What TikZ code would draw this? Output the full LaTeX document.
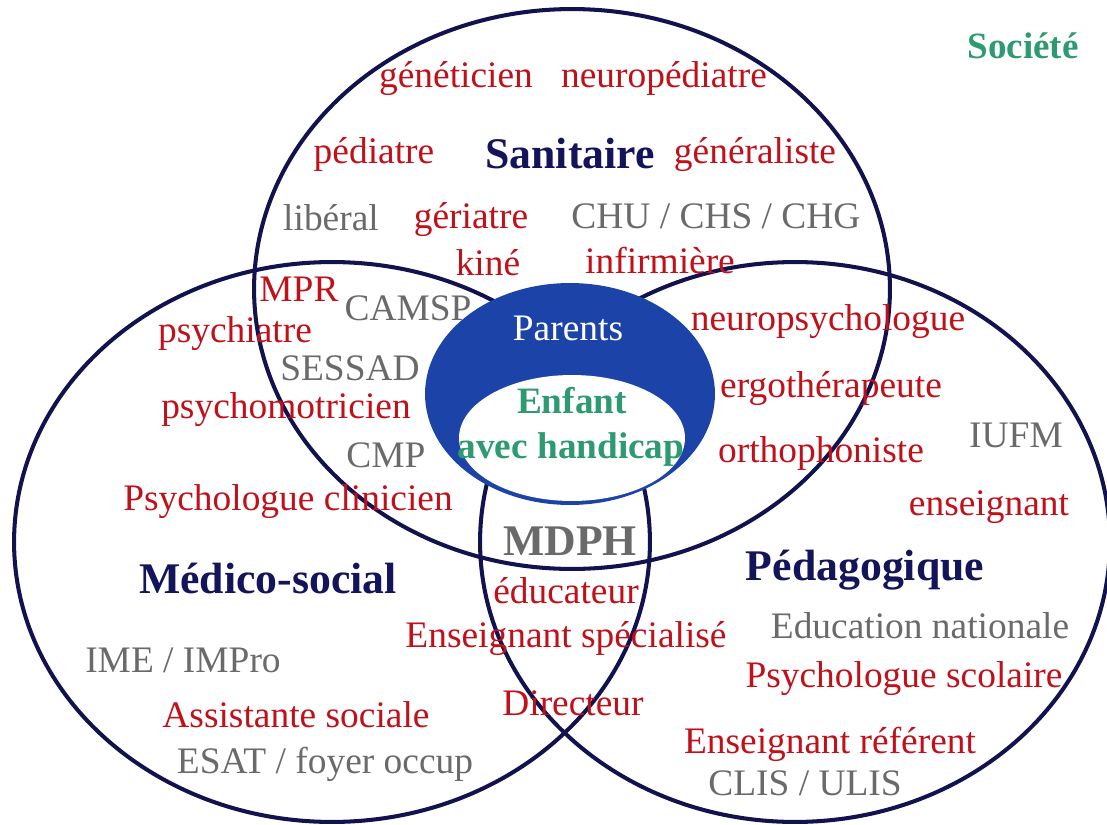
\documentclass[tikz,border=0pt]{standalone}
\usepackage{fontspec}
\setmainfont{Liberation Serif}
\usetikzlibrary{positioning}
\definecolor{zoneline}{HTML}{12124E}
\definecolor{jobred}{HTML}{C0111A}
\definecolor{placegray}{HTML}{6A6A6A}
\definecolor{sectornavy}{HTML}{14145A}
\definecolor{childgreen}{HTML}{2E9A72}
\definecolor{parentblue}{HTML}{1C44A8}

\begin{document}
\begin{tikzpicture}[
    x=0.02cm, y=-0.02cm,
    zone/.style={draw=zoneline, line width=2.3pt},
    job/.style={font=\fontsize{21.3}{25}\selectfont, text=jobred, anchor=base, inner sep=0pt},
    place/.style={job, text=placegray},
    sector/.style={font=\fontsize{24.9}{28}\selectfont\bfseries, text=sectornavy, anchor=base, inner sep=0pt},
]
\useasboundingbox (0,0) rectangle (1107,825);

% Three domains
\draw[zone] (572,289) ellipse [x radius=6.36cm, y radius=5.6cm];
\draw[zone] (332,542) ellipse [x radius=6.36cm, y radius=5.6cm];
\draw[zone] (795,542) ellipse [x radius=6.3cm, y radius=5.6cm];

% Family core
\fill[parentblue] (570,394) ellipse [x radius=2.9cm, y radius=2.22cm];
\fill[white] (572,438) ellipse [x radius=2.26cm, y radius=1.26cm];
\node[job, text=white] (parents) at (568,340) {Parents};
\node[job, font=\fontsize{21.2}{25}\selectfont\bfseries, text=childgreen] (enfant) at (572,413) {Enfant};
\node[job, font=\fontsize{21.2}{25}\selectfont\bfseries, text=childgreen] (handicap) at (571,458) {avec handicap};

% Headings
\node[sector] (sanitaire) at (570,168) {Sanitaire};
\node[sector] (medico) at (268,593) {Médico-social};
\node[sector] (pedago) at (865,580) {Pédagogique};
\node[sector, text=placegray] (mdph) at (570,555) {MDPH};
\node[job, font=\fontsize{21.1}{25}\selectfont\bfseries, text=childgreen] (societe) at (1023,58) {Société};

% Sanitaire
\node[job] (genet) at (456,87) {généticien};
\node[job] (neuroped) at (664,87) {neuropédiatre};
\node[job] (pediatre) at (374,163) {pédiatre};
\node[job] (generaliste) at (755,163) {généraliste};
\node[place] (liberal) at (331,230) {libéral};
\node[job] (geriatre) at (471,228) {gériatre};
\node[place] (chu) at (716,228) {CHU / CHS / CHG};
\node[job] (kine) at (488,275) {kiné};
\node[job] (infirmiere) at (660,273) {infirmière};

% Sanitaire / Medico-social
\node[job] (mpr) at (299,301) {MPR};
\node[place] (camsp) at (408,320) {CAMSP};
\node[job] (psychiatre) at (235,342) {psychiatre};
\node[place] (sessad) at (350,380) {SESSAD};
\node[job] (psychomot) at (286,418) {psychomotricien};
\node[place] (cmp) at (386,467) {CMP};
\node[job] (psyclin) at (288,510) {Psychologue clinicien};

% Sanitaire / Pedagogique
\node[job] (neuropsy) at (828,330) {neuropsychologue};
\node[job] (ergo) at (831,397) {ergothérapeute};
\node[job] (ortho) at (821,462) {orthophoniste};

% Pedagogique
\node[place] (iufm) at (1016,447) {IUFM};
\node[job] (enseignant) at (989,515) {enseignant};
\node[place] (edunat) at (920,638) {Education nationale};
\node[job] (psyscol) at (904,687) {Psychologue scolaire};
\node[job] (ensref) at (830,753) {Enseignant référent};
\node[place] (clis) at (805,795) {CLIS / ULIS};

% Medico-social / Pedagogique
\node[job] (educateur) at (566,603) {éducateur};
\node[job] (ensspe) at (566,647) {Enseignant spécialisé};
\node[job] (directeur) at (573,715) {Directeur};

% Medico-social
\node[place] (ime) at (183,672) {IME / IMPro};
\node[job] (assistante) at (296,727) {Assistante sociale};
\node[place] (esat) at (325,773) {ESAT / foyer occup};

\end{tikzpicture}
\end{document}
